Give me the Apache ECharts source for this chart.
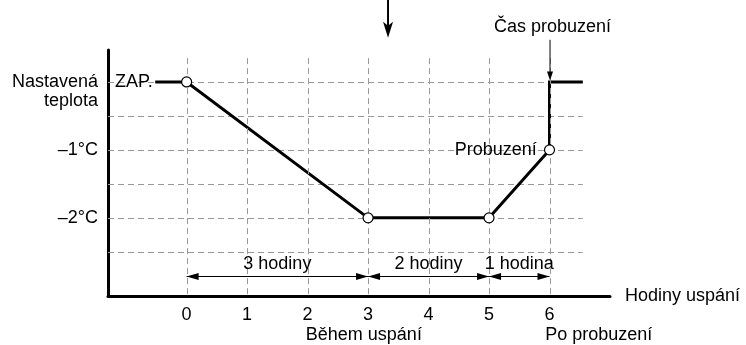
<!DOCTYPE html>
<html>
<head>
<meta charset="utf-8">
<script src="https://cdn.jsdelivr.net/npm/echarts@6/dist/echarts.min.js"></script>
<style>
  html, body { margin: 0; padding: 0; background: #fff; }
  #chart { width: 746px; height: 345px; }
</style>
</head>
<body>
<div id="chart"></div>
<script>
// Hours after the sleep timer is switched on, and temperature offsets from the set point
const hourTicks = [0, 1, 2, 3, 4, 5, 6];
const tempLevels = [0, -0.5, -1, -1.5, -2, -2.5];
const tempTickValues = [0, -1, -2];
const tempTickLabels = [' \nNastavená\nteplota', '–1°C', '–2°C'];

// Temperature profile of the sleep mode
const profileHours = [-0.52, 0, 3, 5, 6, 6, 6.55];
const profileTemps = [0, 0, -2, -2, -1, 0, 0];
const markerHours = [0, 3, 5, 6];
const markerTemps = [0, -2, -2, -1];

// Duration brackets under the curve
const spanStarts = [0, 3, 5];
const spanEnds = [3, 5, 6];
const spanLabels = ['3 hodiny', '2 hodiny', '1 hodina'];

const FONT = 'Liberation Sans, Arial, Helvetica, sans-serif';
const FS = 18;
const X_MIN = -1.3, X_MAX = 7.0, Y_MIN = -3.15, Y_MAX = 0.47;
const GRID_RIGHT_END = 6.55;   // where horizontal guides stop
const GRID_TOP_END = 0.35;     // where vertical guides stop
const SPAN_LEVEL = -2.85;      // height of the duration brackets

const chart = echarts.init(document.getElementById('chart'));

const hGuideData = tempLevels.map(v => [X_MIN, v, GRID_RIGHT_END]);
const vGuideData = hourTicks.map(h => [h, Y_MIN, GRID_TOP_END]);
const spanData = spanStarts.map((s, i) => [s, SPAN_LEVEL, spanEnds[i]]);

const dashStyle = { stroke: '#999999', lineWidth: 1, lineDash: [6, 4] };

function hGuide(params, api) {
  const p1 = api.coord([api.value(0), api.value(1)]);
  const p2 = api.coord([api.value(2), api.value(1)]);
  const y = Math.round(p1[1]) + 0.5;
  return { type: 'line', shape: { x1: p1[0], y1: y, x2: p2[0], y2: y }, style: dashStyle };
}
function vGuide(params, api) {
  const p1 = api.coord([api.value(0), api.value(1)]);
  const p2 = api.coord([api.value(0), api.value(2)]);
  const x = Math.round(p1[0]) + 0.5;
  return { type: 'line', shape: { x1: x, y1: p2[1], x2: x, y2: p1[1] }, style: dashStyle };
}
function spanItem(params, api) {
  const a = api.coord([api.value(0), api.value(1)]);
  const b = api.coord([api.value(2), api.value(1)]);
  const y = Math.round(a[1]) + 0.5;
  const L = 12, W = 3.5;
  return {
    type: 'group',
    children: [
      { type: 'line', shape: { x1: a[0], y1: y, x2: b[0], y2: y }, style: { stroke: '#000', lineWidth: 1 } },
      { type: 'polygon', shape: { points: [[a[0], y], [a[0] + L, y - W], [a[0] + L, y + W]] }, style: { fill: '#000' } },
      { type: 'polygon', shape: { points: [[b[0], y], [b[0] - L, y - W], [b[0] - L, y + W]] }, style: { fill: '#000' } },
      { type: 'text', style: { text: spanLabels[params.dataIndex], x: (a[0] + b[0]) / 2, y: y - 12,
          align: 'center', verticalAlign: 'middle', fontSize: FS, fontFamily: FONT, fill: '#000' } }
    ]
  };
}

chart.setOption({
  animation: false,
  backgroundColor: '#fff',
  grid: { left: 108, right: 136, top: 50, bottom: 49, containLabel: false },
  xAxis: {
    type: 'value', min: X_MIN, max: X_MAX,
    name: 'Hodiny uspání', nameLocation: 'end', nameGap: 15,
    nameTextStyle: { fontSize: FS, fontFamily: FONT, color: '#000', verticalAlign: 'middle' },
    axisLine: { show: true, onZero: false, lineStyle: { color: '#000', width: 3 } },
    axisTick: { show: false },
    splitLine: { show: false },
    axisLabel: {
      customValues: hourTicks, margin: 10,
      fontSize: FS, fontFamily: FONT, color: '#000',
      formatter: v => String(v)
    }
  },
  yAxis: {
    type: 'value', min: Y_MIN, max: Y_MAX,
    axisLine: { show: true, onZero: false, lineStyle: { color: '#000', width: 3 } },
    axisTick: { show: false },
    splitLine: { show: false },
    axisLabel: {
      customValues: tempTickValues, margin: 10,
      fontSize: FS, fontFamily: FONT, color: '#000', lineHeight: 19, align: 'right',
      formatter: v => {
        const i = tempTickValues.findIndex(t => Math.abs(t - v) < 1e-6);
        return i >= 0 ? tempTickLabels[i] : '';
      }
    }
  },
  series: [
    { type: 'custom', name: 'hGuides', data: hGuideData, renderItem: hGuide, z: 1, silent: true,
      encode: { x: 0, y: 1 } },
    { type: 'line', name: 'profile', data: profileHours.map((h, i) => [h, profileTemps[i]]),
      symbol: 'none', lineStyle: { color: '#000', width: 3, join: 'miter' }, z: 2, silent: true },
    { type: 'custom', name: 'vGuides', data: vGuideData, renderItem: vGuide, z: 3, silent: true,
      encode: { x: 0, y: 1 } },
    { type: 'scatter', name: 'points', data: markerHours.map((h, i) => [h, markerTemps[i]]),
      symbol: 'circle', symbolSize: 10,
      itemStyle: { color: '#fff', borderColor: '#000', borderWidth: 1.2, opacity: 1 }, z: 5, silent: true },
    { type: 'custom', name: 'spans', data: spanData, renderItem: spanItem, z: 4, silent: true,
      encode: { x: 0, y: 1 } }
  ]
});

// Annotations positioned in data coordinates
const px = (x, y) => chart.convertToPixel({ gridIndex: 0 }, [x, y]);
const txt = (s, p, align) => ({
  type: 'text', x: p[0], y: p[1], z: 10,
  style: { text: s, align: align, verticalAlign: 'middle', fontSize: FS, fontFamily: FONT, fill: '#000' }
});
const zap = px(-0.56, 0);
const wakeLbl = px(5.79, -1);
const during = px(2.93, -3.72);
const after = px(5.93, -3.72);
const wakeTime = px(6.05, 0.81);
const wakeArrowTop = px(6, 0.62), wakeArrowTip = px(6, 0.02);
const startArrowTop = px(3.33, 1.25), startArrowTip = px(3.33, 0.65);

const graphics = [
  txt('ZAP.', zap, 'right'),
  txt('Probuzení', wakeLbl, 'right'),
  txt('Během uspání', during, 'center'),
  txt('Po probuzení', after, 'left'),
  txt('Čas probuzení', wakeTime, 'center'),
  { type: 'line', z: 10, shape: { x1: wakeArrowTop[0] + 0.5, y1: wakeArrowTop[1], x2: wakeArrowTip[0] + 0.5, y2: wakeArrowTip[1] - 6 },
    style: { stroke: '#000', lineWidth: 1 } },
  { type: 'polygon', z: 10, shape: { points: [[wakeArrowTip[0] + 0.5, wakeArrowTip[1]], [wakeArrowTip[0] - 2.5, wakeArrowTip[1] - 9], [wakeArrowTip[0] + 3.5, wakeArrowTip[1] - 9]] },
    style: { fill: '#000' } },
  { type: 'line', z: 10, shape: { x1: startArrowTop[0], y1: startArrowTop[1], x2: startArrowTip[0], y2: startArrowTip[1] - 10 },
    style: { stroke: '#000', lineWidth: 2 } },
  { type: 'polygon', z: 10, shape: { points: [[startArrowTip[0], startArrowTip[1]], [startArrowTip[0] - 5, startArrowTip[1] - 16], [startArrowTip[0], startArrowTip[1] - 12], [startArrowTip[0] + 5, startArrowTip[1] - 16]] },
    style: { fill: '#000' } }
];
chart.setOption({ graphic: graphics });
</script>
</body>
</html>
